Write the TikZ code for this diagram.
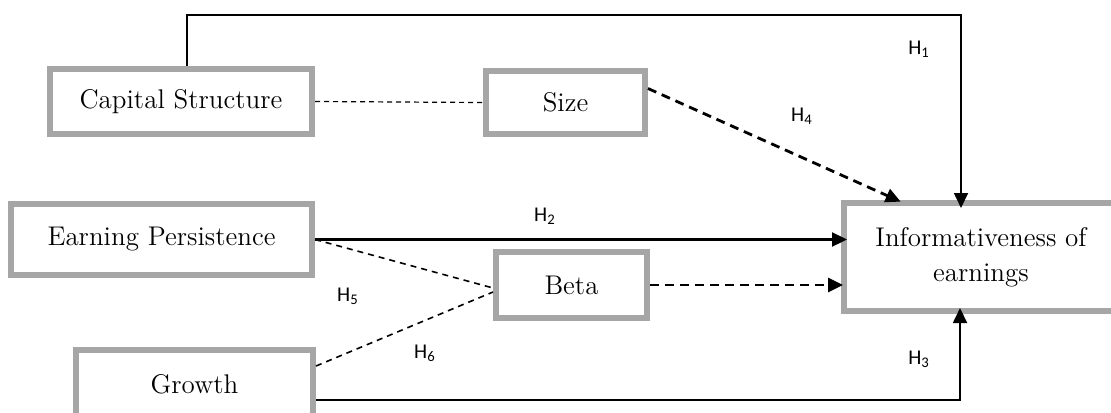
\documentclass[tikz,border=0pt]{standalone}
\usepackage{fontspec}
\usepackage{xcolor}
\newfontfamily\hfont{Carlito}
\usetikzlibrary{arrows.meta}
\definecolor{boxgray}{HTML}{A6A6A6}

\begin{document}
\begin{tikzpicture}[x=0.5pt, y=-0.5pt,
  varbox/.style={draw=boxgray, line width=3pt, fill=white, align=center, inner sep=0pt,
    font=\fontsize{13.5}{17.5}\selectfont},
  hlab/.style={inner sep=0pt, font=\hfont\fontsize{10.5}{12}\selectfont},
  solidlink/.style={line width=0.9pt},
  thinlink/.style={line width=0.6pt, dash pattern=on 2.5pt off 2pt},
  medlink/.style={line width=0.8pt, dash pattern=on 3pt off 2.5pt},
  thicklink/.style={line width=1.4pt, dash pattern=on 4.5pt off 3pt},
  tip/.style={-{Triangle[length=7.5pt, width=7pt]}}]
\useasboundingbox (0,0) rectangle (1111,412);
\clip (0,0) rectangle (1111,412);

\node[varbox, minimum width=131pt, minimum height=32.5pt] (cap) at (181,101.5) {Capital Structure};
\node[varbox, minimum width=79.5pt, minimum height=31.5pt] (size) at (565.5,102.5) {Size};
\node[varbox, minimum width=150.5pt, minimum height=35.5pt] (earn) at (161.5,239.5) {Earning Persistence};
\node[varbox, minimum width=75.5pt, minimum height=33pt] (beta) at (571.5,285) {Beta};
\node[varbox, minimum width=118.5pt, minimum height=34pt] (growth) at (194.5,384) {Growth};
\node[varbox, minimum width=137pt, minimum height=54pt] (info) at (981,257) {Informativeness of\\earnings};

\coordinate (topleft) at (187,15);
\coordinate (topright) at (961,15);
\coordinate (h3corner) at (960,400);

\draw[solidlink, tip, shorten >=-4pt] (cap.north -| topleft) -- (topleft) -- (topright) -- (topright |- info.north);
\draw[thinlink] (cap.east) -- (size.west);
\draw[thicklink, tip, shorten >=-2pt] ([yshift=7pt]size.east) -- ([xshift=28pt]info.north west);
\draw[solidlink, line width=1.1pt, tip, shorten >=-3pt] (earn.east) -- (earn.east -| info.west);
\draw[thicklink, tip, shorten >=-1pt] (beta.east) -- (beta.east -| info.west);
\draw[medlink] (earn.east) -- ([yshift=-1.5pt]beta.west);
\draw[medlink] ([yshift=9pt]growth.east) -- ([yshift=-3.5pt]beta.west);
\draw[solidlink, tip, shorten >=-3pt] ([yshift=-8pt]growth.east) -- (h3corner) -- (h3corner |- info.south);

\node[hlab] (h1) at (919,49) {H\textsubscript{1}};
\node[hlab] (h2) at (545,216) {H\textsubscript{2}};
\node[hlab] (h3) at (919,359) {H\textsubscript{3}};
\node[hlab] (h4) at (802,116) {H\textsubscript{4}};
\node[hlab] (h5) at (348,296) {H\textsubscript{5}};
\node[hlab] (h6) at (425,353) {H\textsubscript{6}};
\end{tikzpicture}
\end{document}
